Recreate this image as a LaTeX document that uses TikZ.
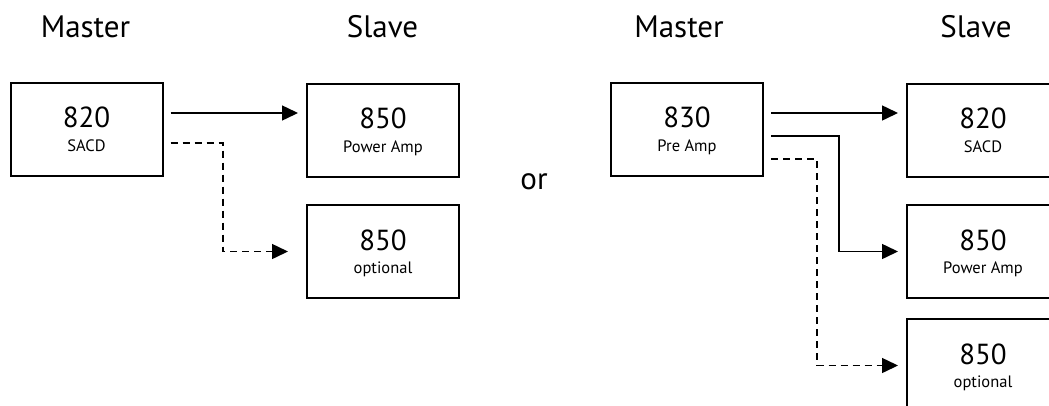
\documentclass[tikz,border=0pt]{standalone}
\usepackage{fontspec}
\setmainfont{PT Sans}
\usetikzlibrary{arrows.meta,calc}
\tikzset{
  box/.style={draw, line width=2pt, minimum width=152pt, minimum height=93pt, inner sep=0pt},
  numtxt/.style={anchor=base, inner sep=0pt, font=\fontsize{29}{29}\selectfont},
  subtxt/.style={anchor=base, inner sep=0pt, font=\fontsize{16.5}{16.5}\selectfont},
  head/.style={anchor=base, inner sep=0pt, font=\fontsize{31}{31}\selectfont},
  conn/.style={line width=1.5pt, -{Triangle[length=16pt,width=15pt]}},
  dconn/.style={conn, dash pattern=on 7pt off 5pt},
}
\begin{document}
\begin{tikzpicture}[x=1pt,y=-1pt]
\useasboundingbox (0,0) rectangle (1049,405);
\begin{scope}
\clip (0,0) rectangle (1049,405);
% headers
\node[head] (h1) at (85.5,37) {Master};
\node[head] (h2) at (382.5,37) {Slave};
\node[head] (h3) at (679,37) {Master};
\node[head] (h4) at (976,37) {Slave};
\node[head] (or) at (534,189) {or};
% left panel
\node[box] (a) at (86.5,129) {};
\node[numtxt] (an) at ($(a.center)+(0,-1.5)$) {820};
\node[subtxt] (as) at ($(a.center)+(0,22)$) {SACD};
\node[box] (b) at (383,130) {};
\node[numtxt] (bn) at ($(b.center)+(0,-1.5)$) {850};
\node[subtxt] (bs) at ($(b.center)+(0,22)$) {Power Amp};
\node[box] (c) at (383,251.5) {};
\node[numtxt] (cn) at ($(c.center)+(0,-1.5)$) {850};
\node[subtxt] (cs) at ($(c.center)+(0,22)$) {optional};
% right panel
\node[box] (d) at (687,129) {};
\node[numtxt] (dn) at ($(d.center)+(0,-1.5)$) {830};
\node[subtxt] (ds) at ($(d.center)+(0,22)$) {Pre Amp};
\node[box] (e) at (983,130) {};
\node[numtxt] (en) at ($(e.center)+(0,-1.5)$) {820};
\node[subtxt] (es) at ($(e.center)+(0,22)$) {SACD};
\node[box] (f) at (983,251.5) {};
\node[numtxt] (fn) at ($(f.center)+(0,-1.5)$) {850};
\node[subtxt] (fs) at ($(f.center)+(0,22)$) {Power Amp};
\node[box] (g) at (983,365.5) {};
\node[numtxt] (gn) at ($(g.center)+(0,-1.5)$) {850};
\node[subtxt] (gs) at ($(g.center)+(0,22)$) {optional};
% left connectors
\coordinate (a1) at ($(a.east)+(7,-16)$);
\coordinate (a2) at ($(a.east)+(7,14)$);
\coordinate (bw) at ($(b.west)+(-8,0)$);
\coordinate (cw) at ($(c.west)+(-18,0)$);
\draw[conn] (a1) -- (bw |- a1);
\draw[dconn] (a2) -- (223,143) |- (cw);
% right connectors
\coordinate (d1) at ($(d.east)+(7,-16)$);
\coordinate (d2) at ($(d.east)+(7,7)$);
\coordinate (d3) at ($(d.east)+(7,30)$);
\coordinate (ew) at ($(e.west)+(-8,0)$);
\coordinate (fw) at ($(f.west)+(-8,0)$);
\coordinate (gw) at ($(g.west)+(-8,0)$);
\draw[conn] (d1) -- (ew |- d1);
\draw[conn] (d2) -- (839,136) |- (fw);
\draw[dconn] (d3) -- (817,159) |- (gw);
\end{scope}
\end{tikzpicture}
\end{document}
